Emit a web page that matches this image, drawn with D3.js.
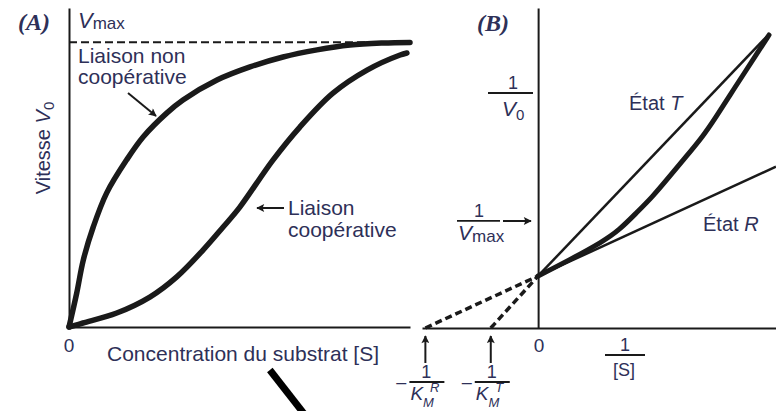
<!DOCTYPE html>
<html><head><meta charset="utf-8">
<script src="https://cdn.jsdelivr.net/npm/d3@7"></script>
<style>
body{margin:0;background:#fff}
svg{display:block}
text{font-family:"Liberation Sans",Arial,sans-serif;fill:#2e3058}
</style>
</head><body><svg id="c" width="776" height="411"></svg>
<script>
// ---------- Panel A : V0 vs [S] ----------
const nonCoopS = [0,0.226,0.419,0.713,1.106,1.692,2.179,2.865,3.343,4.34,5.308,6.276,7.273,8.24,9.208,10];
const nonCoopV = [0,0.119,0.235,0.352,0.471,0.587,0.668,0.751,0.797,0.867,0.913,0.948,0.973,0.99,0.997,0.999];
const coopS = [0,0.41,1.40,2.37,3.16,3.93,4.52,5.01,5.98,6.77,7.74,8.74,9.71,9.91];
const coopV = [0,0.014,0.049,0.105,0.176,0.270,0.351,0.421,0.586,0.702,0.821,0.902,0.955,0.962];
const vmax = 1;
const slashS = [5.89, 6.98];      // stray pen stroke below panel A
const slashV = [-0.151, -0.318];

// ---------- Panel B : 1/V0 vs 1/[S] ----------
const invS = [0,0.277,0.573,0.720,0.868,1.016,1.164,1.312,1.460,1.578,1.702,1.835,1.951,2.048];
const invV = [1,1.307,1.659,1.884,2.205,2.524,2.908,3.292,3.677,4.055,4.478,4.920,5.305,5.631];
const stateRInvS = [-1,0,2.11];
const stateRInvV = [0,1,3.1];
const stateTInvS = [-0.42,0,2.04];
const stateTInvV = [0,1,5.63];
const invVmax = 1;

const svg = d3.select("#c");
const ink = "#1a1a1a";

const defs = svg.append("defs");
defs.append("marker").attr("id","ah").attr("viewBox","0 0 10 10")
  .attr("refX",9).attr("refY",5).attr("markerWidth",9).attr("markerHeight",8)
  .attr("markerUnits","userSpaceOnUse").attr("orient","auto")
  .append("path").attr("d","M0,0L10,5L0,10L2,5Z").attr("fill",ink);

const xA = d3.scaleLinear().domain([0,10]).range([69,410]);
const yA = d3.scaleLinear().domain([0,1.12]).range([327,8]);
const xB = d3.scaleLinear().domain([-1.03,2.11]).range([422,776]);
const yB = d3.scaleLinear().domain([0,6.15]).range([328,8]);
const smooth = d3.curveCatmullRom.alpha(0.5);

function axis(g, ax){ g.call(ax); g.select(".domain").attr("stroke",ink).attr("stroke-width",2); g.selectAll(".tick line").remove(); }

// Panel A axes
const gA = svg.append("g");
gA.append("g").attr("transform",`translate(0,${yA(0)})`).call(g=>axis(g,d3.axisBottom(xA).tickValues([]).tickSizeOuter(0)));
gA.append("g").attr("transform",`translate(${xA(0)},0)`).call(g=>axis(g,d3.axisLeft(yA).tickValues([]).tickSizeOuter(0)));

gA.append("line").attr("x1",xA(0)).attr("x2",xA(10)).attr("y1",yA(vmax)).attr("y2",yA(vmax))
  .attr("stroke",ink).attr("stroke-width",2).attr("stroke-dasharray","8,4");

const lineA = d3.line().x(d=>xA(d[0])).y(d=>yA(d[1])).curve(smooth);
gA.append("path").attr("d",lineA(d3.zip(nonCoopS,nonCoopV))).attr("fill","none").attr("stroke",ink).attr("stroke-width",5.5).attr("stroke-linecap","round");
gA.append("path").attr("d",lineA(d3.zip(coopS,coopV))).attr("fill","none").attr("stroke",ink).attr("stroke-width",5.5).attr("stroke-linecap","round");

gA.append("path").attr("d",d3.line().x(d=>xA(d[0])).y(d=>yA(d[1]))(d3.zip(slashS,slashV)))
  .attr("stroke","#000").attr("stroke-width",7);

// Panel A text
svg.append("text").attr("x",18).attr("y",30).style("font-family","'Liberation Serif',serif")
  .style("font-weight","bold").style("font-style","italic").style("font-size","24px").text("(A)");
const vm = svg.append("text").attr("x",78).attr("y",28).style("font-size","22px");
vm.append("tspan").style("font-style","italic").text("V");
vm.append("tspan").style("font-size","17px").attr("dy",1).text("max");
svg.append("text").attr("x",78).attr("y",63).style("font-size","21px").text("Liaison non");
svg.append("text").attr("x",78).attr("y",84).style("font-size","21px").text("coopérative");
svg.append("line").attr("x1",128).attr("y1",93).attr("x2",156).attr("y2",116)
  .attr("stroke",ink).attr("stroke-width",2).attr("marker-end","url(#ah)");
svg.append("text").attr("x",288).attr("y",215).style("font-size","21px").text("Liaison");
svg.append("text").attr("x",288).attr("y",237).style("font-size","21px").text("coopérative");
svg.append("line").attr("x1",284).attr("y1",208).attr("x2",257).attr("y2",208)
  .attr("stroke",ink).attr("stroke-width",2).attr("marker-end","url(#ah)");
const yl = svg.append("text").attr("transform","translate(50,148) rotate(-90)").attr("text-anchor","middle").style("font-size","20px");
yl.append("tspan").text("Vitesse ");
yl.append("tspan").style("font-style","italic").text("V");
yl.append("tspan").attr("dy",4).style("font-size","15px").text("0");
svg.append("text").attr("x",xA(0)).attr("y",352).attr("text-anchor","middle").style("font-size","19px").text("0");
svg.append("text").attr("x",107).attr("y",361).style("font-size","21px").text("Concentration du substrat [S]");

// Panel B axes
const gB = svg.append("g");
gB.append("g").attr("transform",`translate(0,${yB(0)})`).call(g=>axis(g,d3.axisBottom(xB).tickValues([]).tickSizeOuter(0)));
gB.append("g").attr("transform",`translate(${xB(0)},0)`).call(g=>axis(g,d3.axisLeft(yB).tickValues([]).tickSizeOuter(0)));

const lineB = d3.line().x(d=>xB(d[0])).y(d=>yB(d[1]));
function straight(sx, sv){
  gB.append("path").attr("d",lineB([[sx[0],sv[0]],[sx[1],sv[1]]])).attr("fill","none")
    .attr("stroke",ink).attr("stroke-width",3.5).attr("stroke-dasharray","7,4");
  gB.append("path").attr("d",lineB([[sx[1],sv[1]],[sx[2],sv[2]]])).attr("fill","none")
    .attr("stroke",ink).attr("stroke-width",2.5);
}
straight(stateRInvS, stateRInvV);
straight(stateTInvS, stateTInvV);
gB.append("path").attr("d",d3.line().x(d=>xB(d[0])).y(d=>yB(d[1])).curve(d3.curveBasis)(d3.zip(invS,invV))).attr("fill","none")
  .attr("stroke",ink).attr("stroke-width",5).attr("stroke-linecap","round");

// Panel B text
svg.append("text").attr("x",477).attr("y",31).style("font-family","'Liberation Serif',serif")
  .style("font-weight","bold").style("font-style","italic").style("font-size","24px").text("(B)");

function frac(cx, yBar, x1, x2, num, denFn){
  svg.append("text").attr("x",cx).attr("y",yBar-4).attr("text-anchor","middle").style("font-size","18px").text(num);
  svg.append("line").attr("x1",x1).attr("x2",x2).attr("y1",yBar).attr("y2",yBar).attr("stroke",ink).attr("stroke-width",1.8);
  denFn();
}
frac(513, 93, 488, 533, "1", ()=>{
  const t = svg.append("text").attr("x",502).attr("y",116).style("font-size","21px");
  t.append("tspan").style("font-style","italic").text("V");
  t.append("tspan").attr("dy",4).style("font-size","15px").text("0");
});
frac(479, yB(invVmax)-55, 457, 500, "1", ()=>{
  const t = svg.append("text").attr("x",458).attr("y",240).style("font-size","21px");
  t.append("tspan").style("font-style","italic").text("V");
  t.append("tspan").attr("dy",2).style("font-size","17px").text("max");
});
svg.append("line").attr("x1",503).attr("x2",531).attr("y1",221).attr("y2",221)
  .attr("stroke",ink).attr("stroke-width",2).attr("marker-end","url(#ah)");

const tT = svg.append("text").attr("x",629).attr("y",110).style("font-size","20px");
tT.append("tspan").text("État ");
tT.append("tspan").style("font-style","italic").text("T");
const tR = svg.append("text").attr("x",703).attr("y",231).style("font-size","20px");
tR.append("tspan").text("État ");
tR.append("tspan").style("font-style","italic").text("R");

svg.append("text").attr("x",xB(0)+1).attr("y",352).attr("text-anchor","middle").style("font-size","19px").text("0");
frac(625, 355, 605, 645, "1", ()=>{
  svg.append("text").attr("x",624).attr("y",376).attr("text-anchor","middle").style("font-size","18px").text("[S]");
});

function kmLabel(xInt, sup){
  const cx = xB(xInt);
  svg.append("line").attr("x1",cx).attr("x2",cx).attr("y1",363).attr("y2",336)
    .attr("stroke",ink).attr("stroke-width",2).attr("marker-end","url(#ah)");
  svg.append("text").attr("x",cx-24).attr("y",388).attr("text-anchor","middle").style("font-size","18px").text("–");
  frac(cx+1, 382, cx-16, cx+19, "1", ()=>{
    const t = svg.append("text").attr("x",cx-15).attr("y",400).style("font-size","19px").style("font-style","italic");
    t.append("tspan").text("K");
    t.append("tspan").attr("dy",7).style("font-size","13px").text("M");
    t.append("tspan").attr("dx",-4).attr("dy",-15).style("font-size","13px").text(sup);
  });
}
kmLabel(stateRInvS[0], "R");
kmLabel(stateTInvS[0], "T");
</script>
</body></html>
